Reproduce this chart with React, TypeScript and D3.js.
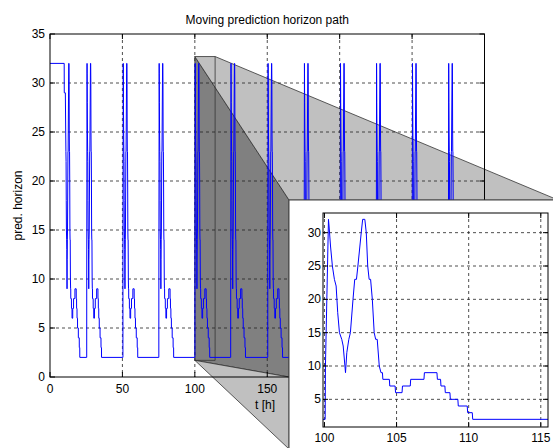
import * as d3 from 'd3';

const W = 553;
const H = 448;

const chartTitle = 'Moving prediction horizon path';
const xLabel = 't [h]';
const yLabel = 'pred. horizon';

const mainXTicks = [0, 50, 100, 150, 200, 250, 300];
const mainYTicks = [0, 5, 10, 15, 20, 25, 30, 35];
const insetXTicks = [100, 105, 110, 115];
const insetYTicks = [5, 10, 15, 20, 25, 30];

// start of each daily burst [h]
const burstStarts = [10.3, 25.3, 50.3, 75.1, 100, 124.7, 150.3, 175.4, 200.3, 225.2, 250, 275];
// flat opening stretch before the first burst
const leadInT = [0, 9.8, 9.85, 10.6];
const leadInV = [32, 32, 29, 29];
// one burst: hours after start / horizon
const burstT = [
  0, 0.05, 0.07, 0.28, 0.32, 0.42, 0.55, 0.69, 0.81, 0.92, 1.04, 1.2, 1.3, 1.46,
  1.55, 1.69, 1.8, 1.98, 2.1, 2.22, 2.32, 2.55, 2.65, 2.8, 2.9, 3.0, 3.1, 3.2,
  3.32, 3.45, 3.55, 3.66, 3.8, 3.92, 4.02, 4.05, 4.5, 4.53, 4.9, 4.93, 5.38, 5.41,
  5.95, 5.98, 6.9, 6.93, 7.8, 7.83, 8.05, 8.08, 8.35, 8.38, 8.7, 8.73, 9.25, 9.28,
  9.9, 9.93, 10.25, 10.28,
];
const burstV = [
  2, 2, 10, 32, 31, 28, 25, 23, 22, 18, 15, 14, 13, 9,
  12, 14, 15, 20, 23, 23, 25, 30, 32, 32, 30, 25, 23, 23,
  20, 15, 14, 14, 10, 9, 9, 8, 8, 7, 7, 6, 6, 7,
  7, 8, 8, 9, 9, 8, 8, 7, 7, 6, 6, 5, 5, 4,
  4, 3, 3, 2,
];
const runEnd = 300;

// zoom window marked in the main plot
const zoomT = [100, 114];
const zoomV = [1.7, 32.7];

const series: [number, number][] = [];
leadInT.forEach((t, i) => series.push([t, leadInV[i]]));
burstStarts.forEach((s, k) => {
  burstT.forEach((dt, i) => {
    if (k === 0 && dt < 0.5) return;
    series.push([s + dt, burstV[i]]);
  });
});
series.push([runEnd, burstV[burstV.length - 1]]);

const font = '"Liberation Sans", Arial, Helvetica, sans-serif';

export default function App() {
  const m = { left: 50, right: 484.5, top: 34, bottom: 377 };
  const x = d3.scaleLinear().domain([0, 300]).range([m.left, m.right]);
  const y = d3.scaleLinear().domain([0, 35]).range([m.bottom, m.top]);

  const ins = { left: 323, right: 548, top: 213, bottom: 427 };
  const xi = d3.scaleLinear().domain([99.9, 115.5]).range([ins.left, ins.right]);
  const yi = d3.scaleLinear().domain([0.85, 32.95]).range([ins.bottom, ins.top]);

  const mainLine = d3.line<[number, number]>().x(d => x(d[0])).y(d => y(d[1]));
  const insetLine = d3.line<[number, number]>().x(d => xi(d[0])).y(d => yi(d[1]));
  const insetData = series.filter(d => d[0] >= 80 && d[0] <= 130);

  // panel and projection faces
  const panel = { x: 289, y: 200 };
  const sx0 = x(zoomT[0]);
  const sx1 = x(zoomT[1]);
  const sy0 = y(zoomV[1]);
  const sy1 = y(zoomV[0]);
  const poly = (pts: number[][]) => pts.map(p => p.join(',')).join(' ');
  const topFace = [[sx0, sy0], [sx1, sy0], [558, panel.y], [panel.x, panel.y]];
  const leftFace = [[sx0, sy0], [panel.x, panel.y], [panel.x, y(0)], [sx0, sy1]];
  const lowFace = [[sx0, sy1], [panel.x, y(0)], [panel.x, 449]];

  const tick = 5;
  const dash = '3,3';

  return (
    <div style={{ position: 'absolute', left: 0, top: 0 }}>
      <svg width={W} height={H} style={{ display: 'block', background: '#fff' }} fontFamily={font}>
        <defs>
          <clipPath id="mainClip">
            <rect x={m.left} y={m.top} width={m.right - m.left} height={m.bottom - m.top} />
          </clipPath>
          <clipPath id="insClip">
            <rect x={ins.left} y={ins.top} width={ins.right - ins.left} height={ins.bottom - ins.top} />
          </clipPath>
        </defs>

        <text x={(m.left + m.right) / 2} y={24} textAnchor="middle" fontSize={12} fill="#000">
          {chartTitle}
        </text>

        {/* projection faces */}
        <polygon points={poly(leftFace)} fill="#808080" stroke="#333" strokeWidth={0.8} />
        <polygon points={poly(topFace)} fill="#c0c0c0" stroke="#333" strokeWidth={0.8} />
        <polygon points={poly(lowFace)} fill="#c0c0c0" stroke="#333" strokeWidth={0.8} />
        <line x1={sx1} x2={sx1} y1={sy0} y2={sy1} stroke="#333" strokeWidth={0.8} />
        <line x1={sx0} x2={sx1} y1={sy1} y2={sy1} stroke="#333" strokeWidth={0.8} />

        {/* main grid */}
        <g stroke="#222" strokeWidth={0.8} strokeDasharray={dash}>
          {mainXTicks.slice(1, -1).map(t => (
            <line key={'gx' + t} x1={x(t)} x2={x(t)} y1={m.top} y2={m.bottom} />
          ))}
          {mainYTicks.slice(1, -1).map(v => (
            <line key={'gy' + v} x1={m.left} x2={m.right} y1={y(v)} y2={y(v)} />
          ))}
        </g>

        <path d={mainLine(series) || ''} fill="none" stroke="#0000ff" strokeWidth={1} clipPath="url(#mainClip)" />

        {/* main axes */}
        <g stroke="#000" strokeWidth={1}>
          <rect x={m.left} y={m.top} width={m.right - m.left} height={m.bottom - m.top} fill="none" />
          {mainXTicks.map(t => (
            <g key={'tx' + t}>
              <line x1={x(t)} x2={x(t)} y1={m.bottom} y2={m.bottom - tick} />
              <line x1={x(t)} x2={x(t)} y1={m.top} y2={m.top + tick} />
            </g>
          ))}
          {mainYTicks.map(v => (
            <g key={'ty' + v}>
              <line x1={m.left} x2={m.left + tick} y1={y(v)} y2={y(v)} />
              <line x1={m.right} x2={m.right - tick} y1={y(v)} y2={y(v)} />
            </g>
          ))}
        </g>
        <g fontSize={12} fill="#000">
          {mainXTicks.map(t => (
            <text key={'lx' + t} x={x(t)} y={m.bottom + 16} textAnchor="middle">{t}</text>
          ))}
          {mainYTicks.map(v => (
            <text key={'ly' + v} x={m.left - 5} y={y(v) + 4} textAnchor="end">{v}</text>
          ))}
          <text x={265} y={409} textAnchor="middle">{xLabel}</text>
          <text transform={`translate(22,${(m.top + m.bottom) / 2}) rotate(-90)`} textAnchor="middle">{yLabel}</text>
        </g>

        {/* zoom panel */}
        <rect x={panel.x} y={panel.y} width={320} height={300} fill="#fff" stroke="#444" strokeWidth={1} />
        <g stroke="#222" strokeWidth={0.8} strokeDasharray={dash}>
          {insetXTicks.map(t => (
            <line key={'igx' + t} x1={xi(t)} x2={xi(t)} y1={ins.top} y2={ins.bottom} />
          ))}
          {insetYTicks.map(v => (
            <line key={'igy' + v} x1={ins.left} x2={ins.right} y1={yi(v)} y2={yi(v)} />
          ))}
        </g>
        <path d={insetLine(insetData) || ''} fill="none" stroke="#0000ff" strokeWidth={1} clipPath="url(#insClip)" />
        <g stroke="#000" strokeWidth={1}>
          <rect x={ins.left} y={ins.top} width={ins.right - ins.left} height={ins.bottom - ins.top} fill="none" />
          {insetXTicks.map(t => (
            <g key={'itx' + t}>
              <line x1={xi(t)} x2={xi(t)} y1={ins.bottom} y2={ins.bottom - tick} />
              <line x1={xi(t)} x2={xi(t)} y1={ins.top} y2={ins.top + tick} />
            </g>
          ))}
          {insetYTicks.map(v => (
            <g key={'ity' + v}>
              <line x1={ins.left} x2={ins.left + tick} y1={yi(v)} y2={yi(v)} />
              <line x1={ins.right} x2={ins.right - tick} y1={yi(v)} y2={yi(v)} />
            </g>
          ))}
        </g>
        <g fontSize={12} fill="#000">
          {insetXTicks.map(t => (
            <text key={'ilx' + t} x={xi(t)} y={ins.bottom + 15} textAnchor="middle">{t}</text>
          ))}
          {insetYTicks.map(v => (
            <text key={'ily' + v} x={ins.left - 2} y={yi(v) + 4} textAnchor="end">{v}</text>
          ))}
        </g>
      </svg>
    </div>
  );
}
